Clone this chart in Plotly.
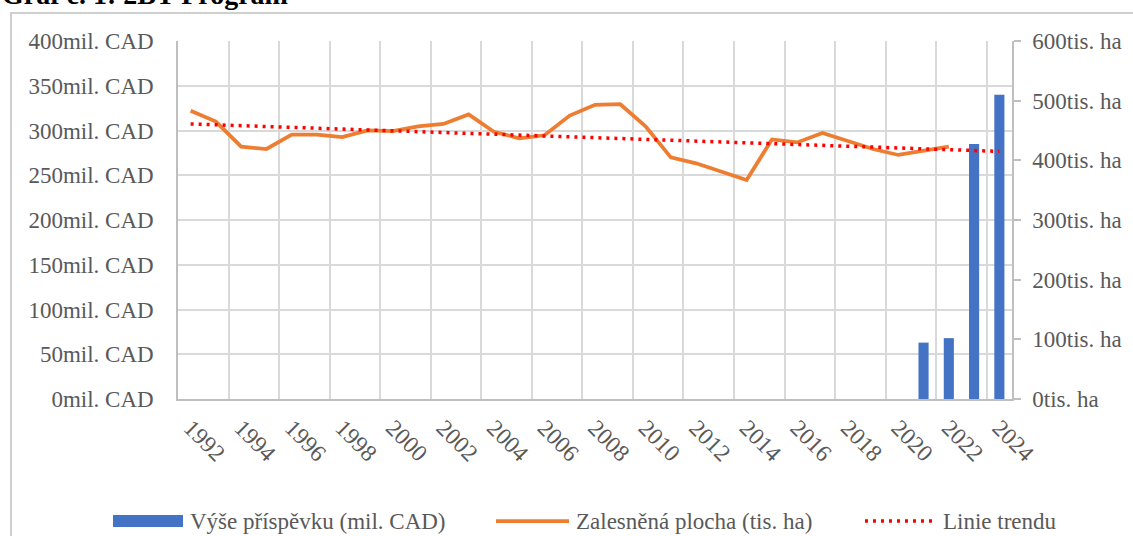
import plotly.graph_objects as go

# ---- data ----
years = list(range(1992, 2025))
contribution_mil_cad = [None] * 29 + [63, 68, 285, 340]
forest_area_tis_ha = [483, 465, 423, 419, 443, 443, 439, 450, 449, 457, 461, 477,
                      448, 437, 442, 475, 493, 494, 457, 405, 395, 381, 367, 435,
                      430, 446, 433, 419, 409, 416, 423, None, None]
trend_years = [1992, 2024]
trend_values = [461, 415]
tick_years = list(range(1992, 2025, 2))
left_ticks = [0, 50, 100, 150, 200, 250, 300, 350, 400]
right_ticks = [0, 100, 200, 300, 400, 500, 600]
series_names = ["Výše příspěvku (mil. CAD)", "Zalesněná plocha (tis. ha)", "Linie trendu"]

FONT = "Liberation Serif"
GRAY_TXT = "#595959"
GRID = "#d9d9d9"
AXIS = "#bfbfbf"
FRAME = "#cfcfcf"
BLUE, ORANGE, RED = "#4472C4", "#ED7D31", "#FF0000"

fig = go.Figure()
fig.add_trace(go.Bar(
    x=years, y=contribution_mil_cad, name=series_names[0],
    marker=dict(color=BLUE, line=dict(width=0)), width=0.4, yaxis="y"))
fig.add_trace(go.Scatter(
    x=years, y=forest_area_tis_ha, name=series_names[1],
    mode="lines", line=dict(color=ORANGE, width=3.75), yaxis="y2"))
fig.add_trace(go.Scatter(
    x=trend_years, y=trend_values, name=series_names[2],
    mode="lines", line=dict(color=RED, width=3.5, dash="3px,5px"), yaxis="y2"))

L, R, T, B = 178, 121, 41, 137
W, H = 1133, 536
pw, ph = W - L - R, H - T - B

def px_x(p):
    return (p - L) / pw

def px_y(p):
    return (H - B - p) / ph

# custom legend (swatch + label), laid out like the reference
leg_y = 521
legend_items = [
    dict(kind="rect", x0=113, x1=183, color=BLUE, tx=188),
    dict(kind="line", x0=496, x1=569, color=ORANGE, tx=574),
    dict(kind="dot", x0=865, x1=933, color=RED, tx=941),
]
# outer chart frame (left and top edges visible, the rest runs off the picture)
shapes = [
    dict(type="rect", xref="paper", yref="paper",
         x0=px_x(11), x1=px_x(1160), y0=px_y(560), y1=px_y(13),
         line=dict(color=FRAME, width=2), fillcolor="rgba(0,0,0,0)", layer="below"),
]
annotations = [dict(
    text="<b>Graf č. 1: 2BT Program</b>", xref="paper", yref="paper",
    x=px_x(0), y=px_y(12), xanchor="left", yanchor="bottom",
    showarrow=False, font=dict(family=FONT, size=28, color="black"))]
for item, name in zip(legend_items, series_names):
    if item["kind"] == "rect":
        shapes.append(dict(type="rect", xref="paper", yref="paper",
                           x0=px_x(item["x0"]), x1=px_x(item["x1"]),
                           y0=px_y(leg_y + 6), y1=px_y(leg_y - 6),
                           fillcolor=item["color"], line=dict(width=0)))
    else:
        shapes.append(dict(type="line", xref="paper", yref="paper",
                           x0=px_x(item["x0"]), x1=px_x(item["x1"]),
                           y0=px_y(leg_y), y1=px_y(leg_y),
                           line=dict(color=item["color"],
                                     width=3.75 if item["kind"] == "line" else 3.5,
                                     dash="solid" if item["kind"] == "line" else "3px,5px")))
    annotations.append(dict(text=name, xref="paper", yref="paper",
                            x=px_x(item["tx"]), y=px_y(leg_y),
                            xanchor="left", yanchor="middle", showarrow=False,
                            font=dict(family=FONT, size=23, color=GRAY_TXT)))

fig.update_layout(
    width=W, height=H,
    margin=dict(l=L, r=R, t=T, b=B, autoexpand=False),
    paper_bgcolor="white", plot_bgcolor="white",
    font=dict(family=FONT, size=23, color=GRAY_TXT),
    showlegend=False,
    xaxis=dict(
        type="linear", range=[1991.5, 2024.5], automargin=False,
        tickmode="array", tickvals=tick_years, ticktext=[str(y) for y in tick_years],
        tickangle=45, ticks="", showgrid=False, zeroline=False,
        showline=True, linecolor=AXIS, linewidth=1.5,
        ticklabelstandoff=4,
        minor=dict(tick0=1991.5, dtick=2, showgrid=True, gridcolor=GRID, gridwidth=1.5, ticks=""),
        tickfont=dict(family=FONT, size=23.5, color=GRAY_TXT)),
    yaxis=dict(
        range=[0, 400], tickmode="array", tickvals=left_ticks, automargin=False,
        ticktext=[f"{v}mil. CAD" for v in left_ticks],
        showgrid=True, gridcolor=GRID, gridwidth=1.5, zeroline=False,
        showline=True, linecolor=AXIS, linewidth=1.5, ticks="",
        ticklabelstandoff=18,
        tickfont=dict(family=FONT, size=23, color=GRAY_TXT)),
    yaxis2=dict(
        range=[0, 600], overlaying="y", side="right", tickmode="array", automargin=False,
        tickvals=right_ticks, ticktext=[f"{v}tis. ha" for v in right_ticks],
        showgrid=False, zeroline=False,
        showline=True, linecolor=AXIS, linewidth=1.5,
        ticks="outside", ticklen=7, tickcolor=AXIS, tickwidth=1.5,
        ticklabelstandoff=7,
        tickfont=dict(family=FONT, size=23, color=GRAY_TXT)),
    annotations=annotations,
    shapes=shapes,
)

post = (
    "document.body.style.margin='0px';"
    "document.body.style.overflow='hidden';"
    "var gd=document.getElementById('{plot_id}');"
    "Plotly.relayout(gd, {'shapes[0].line.width': 2.01});"
)

fig.write_html("out.html", config={"displayModeBar": False}, post_script=post)
